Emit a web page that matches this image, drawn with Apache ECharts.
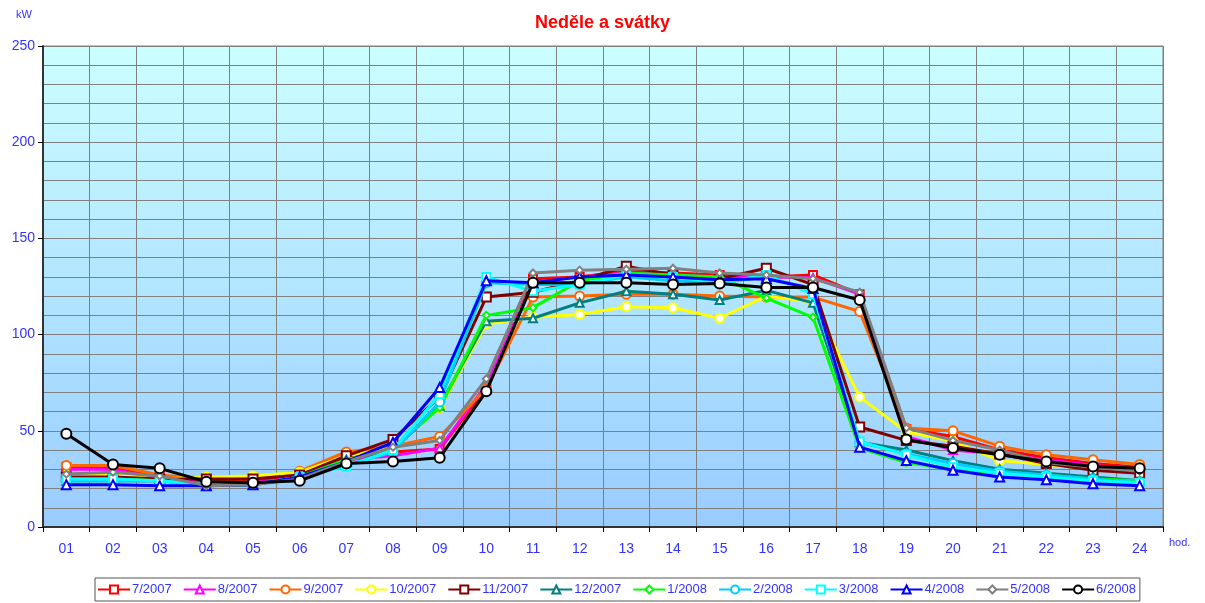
<!DOCTYPE html>
<html lang="cs">
<head>
    <meta charset="UTF-8">
    <title>Neděle a svátky</title>
    <script src="https://cdn.jsdelivr.net/npm/echarts@6/dist/echarts.min.js"></script>
    <style>
        body { margin: 0; background: #fff; }
    </style>
</head>
<body>
<div id="main" style="width:1205px;height:603px;"></div>
<script>
    // hodiny
    var hours = ['01','02','03','04','05','06','07','08','09','10','11','12',
                 '13','14','15','16','17','18','19','20','21','22','23','24'];

    // (kW)
    var m2007_07 = [31,31,26,24,24,27,36,39,40.5,72,129,130,133,132,131,130,131,121,51,47,40,36,33,31];
    var m2007_08 = [30,30,25,23,23,26,35,37,41,74,127,130,132,131,130,130,129.5,121,47,40,38,35,32,30];
    var m2007_09 = [32,32,27,25,25,29,39,42,47,72,119.5,120,121,121,120,119.5,119.5,112,51.5,50,42,37.5,35,32.5];
    var m2007_10 = [27,27,25,26,26.5,28.5,37,41,62,105.5,109,110.5,114.5,114,108.5,120,117,67.5,49.5,44.5,34.5,32.5,30,29];
    var m2007_11 = [26,26,25,25,25,27,37,45.5,67.5,119.5,122,128,135.5,131,129,134.5,126,52,45,42,38,33,29.5,28];
    var m2007_12 = [24,24,24,22,22,26,35,40,63,107,108.5,116.5,122.5,121,118,123,116.5,44,40,34.5,30,28,26,24];
    var m2008_01 = [25,25,24,22,22,26,35,41,62,110,114,128,132,131,130,119,109,41,33.5,30,28,27,25,24];
    var m2008_02 = [24,24,24,22,22,26,32,39,65,127,126,126,130,128,127,130,123,44,38,33,29,27,25,23];
    var m2008_03 = [25,25,24,22,22,26,31.5,40,69,130,122.5,126,131,130,127,131,121,44.5,37.5,31,28,26,24,23];
    var m2008_04 = [22,22,21.5,21.5,22,26,34,44,72.5,128,127,130,131,130,128.5,129,124,41.5,34.5,29.5,26,24.5,22.5,21.5];
    var m2008_05 = [27.5,28.5,26.5,21.5,22,25,34,41.5,45,77,132,133.5,134,134.5,132,131,129,122,51.5,45,40,33.5,31,29];
    var m2008_06 = [48.5,32.5,30.5,23.5,23,24,33,34,36,70.5,127,127,127,126,126.5,124.5,124.5,118,45.5,41,37.5,34,31.5,30.5];

    var seriesNames = ['7/2007','8/2007','9/2007','10/2007','11/2007','12/2007',
                       '1/2008','2/2008','3/2008','4/2008','5/2008','6/2008'];
    var seriesData = [m2007_07,m2007_08,m2007_09,m2007_10,m2007_11,m2007_12,
                      m2008_01,m2008_02,m2008_03,m2008_04,m2008_05,m2008_06];
    var colors = ['#ff0000','#ff00ff','#ff6600','#ffff00','#800000','#008080',
                  '#00ff00','#00ccff','#00ffff','#0000ff','#808080','#000000'];
    var symbols = ['rect','triangle','circle','circle','rect','triangle',
                   'diamond','circle','rect','triangle','diamond','circle'];
    var sizes = [8,8,9,9,9,8,7,9,8,9,7,10];

    var font = 'Liberation Sans, Arial, sans-serif';
    var blue = '#3333ff';

    var series = [];
    for (var i = 0; i < seriesData.length; i++) {
        series.push({
            name: seriesNames[i],
            type: 'line',
            data: seriesData[i],
            symbol: symbols[i],
            symbolSize: sizes[i],
            z: 2 + i,
            lineStyle: { color: colors[i], width: 3 },
            itemStyle: { color: '#ffffff', borderColor: colors[i], borderWidth: 2 }
        });
    }

    var myChart = echarts.init(document.getElementById('main'));
    myChart.setOption({
        animation: false,
        textStyle: { fontFamily: font },
        title: {
            text: 'Neděle a svátky',
            left: 'center',
            top: 9,
            textStyle: { color: '#ff0000', fontSize: 18, fontWeight: 'bold', fontFamily: font }
        },
        legend: {
            data: seriesNames,
            left: 95,
            top: 578,
            width: 1060,
            padding: [5, 4, 5, 2],
            itemGap: 11,
            itemWidth: 32,
            itemHeight: 10,
            borderColor: '#555',
            borderWidth: 1,
            borderRadius: 0,
            textStyle: { color: blue, fontSize: 13, fontFamily: font, padding: [0, 0, 0, -3] }
        },
        grid: {
            left: 43,
            right: 42,
            top: 46,
            bottom: 76,
            show: true,
            borderWidth: 1,
            borderColor: '#808080',
            backgroundColor: new echarts.graphic.LinearGradient(0, 0, 0, 1, [
                { offset: 0, color: '#ccffff' },
                { offset: 1, color: '#99ccff' }
            ])
        },
        graphic: [
            { type: 'text', left: 16, top: 9, style: { text: 'kW', fill: blue, font: '11px ' + font } },
            { type: 'text', left: 1169, top: 537, style: { text: 'hod.', fill: blue, font: '11px ' + font } }
        ],
        xAxis: {
            type: 'category',
            data: hours,
            boundaryGap: true,
            axisLine: { lineStyle: { color: '#333', width: 2 } },
            axisTick: { show: true, alignWithLabel: false, length: 5, lineStyle: { color: '#000' } },
            axisLabel: { color: blue, fontSize: 14, margin: 15, fontFamily: font },
            splitLine: { show: true, lineStyle: { color: '#808080', width: 1 } }
        },
        yAxis: {
            type: 'value',
            min: 0,
            max: 250,
            interval: 50,
            axisLine: { show: true, lineStyle: { color: '#333', width: 2 } },
            axisTick: { show: true, length: 5, lineStyle: { color: '#000' } },
            axisLabel: { color: blue, fontSize: 14, margin: 8, fontFamily: font },
            splitLine: { show: true, lineStyle: { color: '#808080', width: 1 } },
            minorTick: { show: false, splitNumber: 5 },
            minorSplitLine: { show: true, lineStyle: { color: '#808080', width: 1 } }
        },
        series: series
    });
</script>
</body>
</html>
